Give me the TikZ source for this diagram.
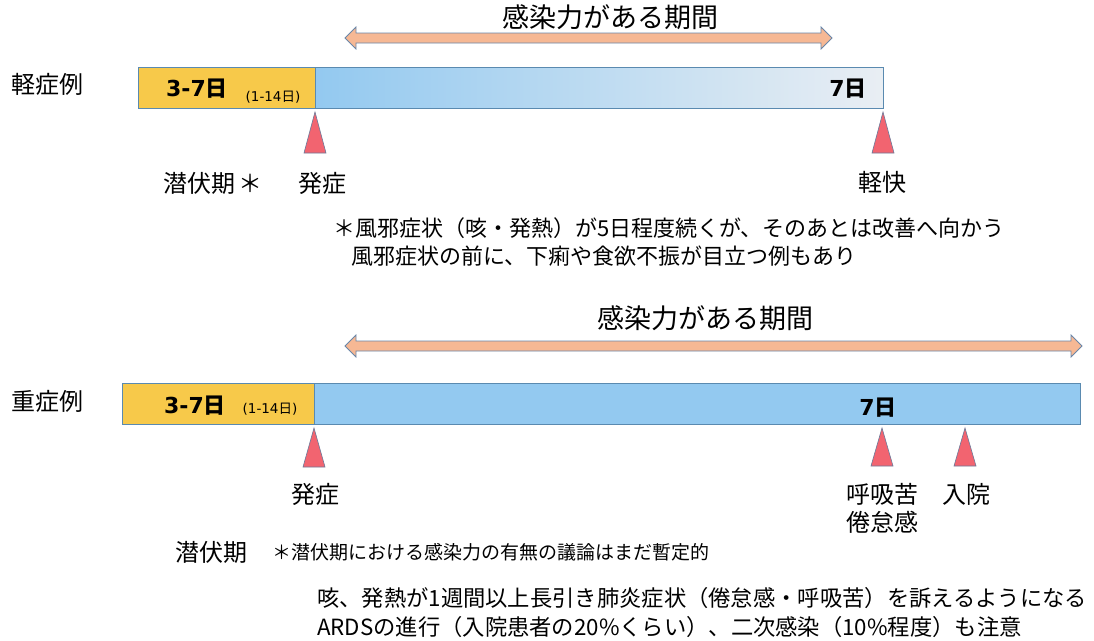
\documentclass[tikz,border=0pt]{standalone}
\usepackage{fontspec}
\usetikzlibrary{calc}
\setmainfont{Noto Sans CJK JP}[BoldFont={Noto Sans CJK JP Bold}]
\newfontfamily\numfont{DejaVu Sans}[BoldFont={DejaVu Sans Bold}]
\newfontfamily\cjkreg{Noto Sans CJK JP}
\newfontfamily\cjkbold{Noto Sans CJK JP Bold}
\begin{document}
\begin{tikzpicture}[x=1pt,y=-1pt,
  lbl/.style={inner sep=0pt,anchor=center,font=\fontsize{24}{28}\selectfont},
  ttl/.style={inner sep=0pt,anchor=center,font=\fontsize{27}{30}\selectfont},
  note/.style={inner sep=0pt,anchor=west,font=\fontsize{22}{25}\selectfont},
  big/.style={inner sep=0pt,font=\numfont\bfseries\fontsize{22}{24}\selectfont},
  tiny/.style={inner sep=0pt,font=\numfont\fontsize{13.5}{15}\selectfont},
  tri/.style={fill=triRed,draw=triEdge,line width=0.6pt},
  yel/.style={fill=barYellow,draw=barEdge,line width=0.6pt},
  arr/.style={fill=arrFill,draw=arrEdge,line width=0.8pt}]
\definecolor{barYellow}{HTML}{F7C94A}
\definecolor{barBlue}{HTML}{93C9F0}
\definecolor{barLight}{HTML}{E9EEF3}
\definecolor{barEdge}{HTML}{5A8AB0}
\definecolor{triRed}{HTML}{F26470}
\definecolor{triEdge}{HTML}{6A7A9A}
\definecolor{arrFill}{HTML}{F6B894}
\definecolor{arrEdge}{HTML}{6A86A8}
\useasboundingbox (0,0) rectangle (1094,640);
\fill[white] (0,0) rectangle (1094,640);

% ---------- mild case ----------
\node[ttl] (t1) at (610,17) {感染力がある期間};
\coordinate (a1l) at (345,38);
\coordinate (a1r) at (832,38);
\draw[arr] (a1l) -- ++(11,-11) -- ++(0,6) -- ($(a1r)+(-11,-5)$) -- ++(0,-6) -- (a1r)
  -- ++(-11,11) -- ++(0,-6) -- ($(a1l)+(11,5)$) -- ++(0,6) -- cycle;

\node[lbl,anchor=west] (mild) at (11,84) {軽症例};
\shade[left color=barBlue,right color=barLight,draw=barEdge,line width=0.6pt] (315,67) rectangle (883,108);
\draw[yel] (138,67) rectangle (315,108);
\node[big] (m37) at (197,89) {3-7{\cjkbold 日}};
\node[tiny] (m114) at (273,97) {(1-14{\cjkreg 日})};
\node[big] (m7) at (848,89) {7{\cjkbold 日}};

\draw[tri] (315,112) -- (326,153) -- (304,153) -- cycle;
\draw[tri] (883,112) -- (894,153) -- (872,153) -- cycle;
\node[lbl] (mlat) at (213,183) {潜伏期\,＊};
\node[lbl] (mon) at (322,183) {発症};
\node[lbl] (mrec) at (882,182) {軽快};
\node[note] (mn1) at (333,228) {＊風邪症状（咳・発熱）が5日程度続くが、そのあとは改善へ向かう};
\node[note] (mn2) at (351,256) {風邪症状の前に、下痢や食欲不振が目立つ例もあり};

% ---------- severe case ----------
\node[ttl] (t2) at (705,318) {感染力がある期間};
\coordinate (a2l) at (345,346);
\coordinate (a2r) at (1082,346);
\draw[arr] (a2l) -- ++(11,-11) -- ++(0,6) -- ($(a2r)+(-11,-5)$) -- ++(0,-6) -- (a2r)
  -- ++(-11,11) -- ++(0,-6) -- ($(a2l)+(11,5)$) -- ++(0,6) -- cycle;

\node[lbl,anchor=west] (sev) at (11,401) {重症例};
\draw[fill=barBlue,draw=barEdge,line width=0.6pt] (314,383) rectangle (1080,424);
\draw[yel] (122,383) rectangle (314,424);
\node[big] (s37) at (195,406) {3-7{\cjkbold 日}};
\node[tiny] (s114) at (270,409) {(1-14{\cjkreg 日})};
\node[big] (s7) at (878,408) {7{\cjkbold 日}};

\draw[tri] (314,428) -- (325,467) -- (303,467) -- cycle;
\draw[tri] (882,428) -- (893,466) -- (871,466) -- cycle;
\draw[tri] (965,428) -- (976,466) -- (954,466) -- cycle;
\node[lbl] (son) at (315,494) {発症};
\node[lbl] (sbr) at (882,494) {呼吸苦};
\node[lbl] (sft) at (882,522) {倦怠感};
\node[lbl] (shos) at (966,494) {入院};
\node[lbl] (slat) at (211,552) {潜伏期};
\node[note,font=\fontsize{19}{21}\selectfont] (sn0) at (272,552) {＊潜伏期における感染力の有無の議論はまだ暫定的};
\node[note,font=\fontsize{22.3}{25}\selectfont] (sn1) at (317,598) {咳、発熱が1週間以上長引き肺炎症状（倦怠感・呼吸苦）を訴えるようになる};
\node[note,font=\fontsize{22.3}{25}\selectfont] (sn2) at (317,627) {ARDSの進行（入院患者の20\%くらい）、二次感染（10\%程度）も注意};
\end{tikzpicture}
\end{document}
